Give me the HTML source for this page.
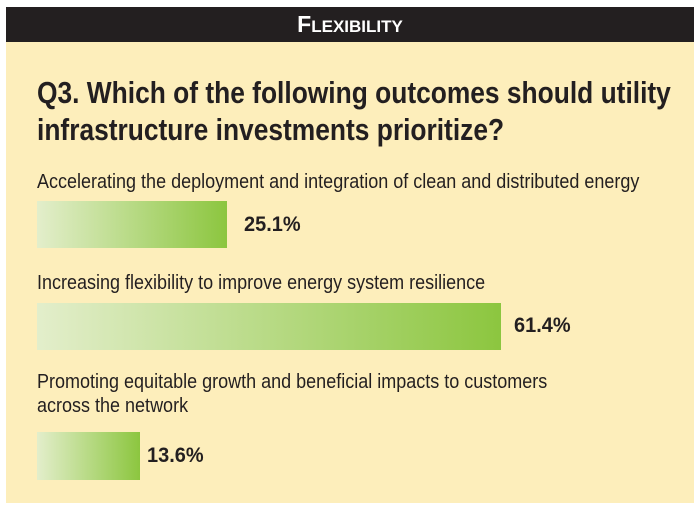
<!DOCTYPE html>
<html><head><style>
body{margin:0;width:700px;height:519px;background:#fff;position:relative;overflow:hidden;font-family:"Liberation Sans",sans-serif;color:#231f20}
.panel{position:absolute;left:6px;top:7px;width:688px;height:496px;background:#fdeebb}
.hdr{position:absolute;left:6px;top:7px;width:688px;height:35px;background:#231f20;color:#fff;text-align:center;font-weight:bold;font-size:23px;line-height:35px}
.hdr small{font-size:17px}
.t{position:absolute;white-space:nowrap;transform-origin:0 0}
.bar{position:absolute;left:37px;background:linear-gradient(to right,#e3eecb,#8cc63f)}
.pct{position:absolute;font-size:21px;font-weight:bold;line-height:24px;transform:scaleX(0.95);transform-origin:0 0}
.lbl{font-size:20px;line-height:24px;transform:scaleX(0.9)}
</style></head><body>
<div class="panel"></div>
<div class="hdr">F<small>LEXIBILITY</small></div>
<div class="t" style="left:37px;top:74px;font-size:31px;line-height:37px;font-weight:bold;transform:scaleX(0.85)">Q3. Which of the following outcomes should utility<br>infrastructure investments prioritize?</div>
<div class="t lbl" style="left:37px;top:170px">Accelerating the deployment and integration of clean and distributed energy</div>
<div class="bar" style="top:201px;width:190px;height:47px"></div>
<div class="pct" style="left:244px;top:213px">25.1%</div>
<div class="t lbl" style="left:37px;top:271px">Increasing flexibility to improve energy system resilience</div>
<div class="bar" style="top:303px;width:464px;height:47px"></div>
<div class="pct" style="left:514px;top:314px">61.4%</div>
<div class="t lbl" style="left:37px;top:370px">Promoting equitable growth and beneficial impacts to customers<br>across the network</div>
<div class="bar" style="top:432px;width:103px;height:48px"></div>
<div class="pct" style="left:147px;top:444px">13.6%</div>
</body></html>
